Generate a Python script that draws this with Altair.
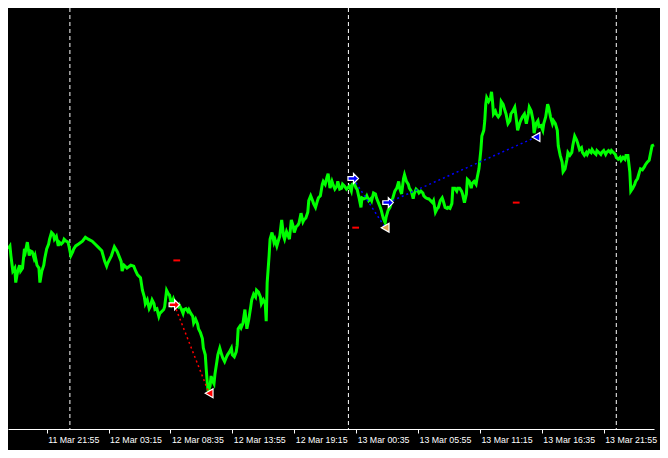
import altair as alt
import pandas as pd

# ---- time base: M5 bars ----
START = "2024-03-11 18:35"
BAR_MINUTES = 5
END_BAR = 668

# ---- close-price trace (bar index, level; larger = lower) ----
bars1 = [0,2,3,5,7,8,10,12,13,15,17,18,20,22,23,25,27,28,30,32,33,35,37,38,40,42,43,45,47,48,
         50,52,53,55,57,58,60,62,63,65,67,68,70,73,77,80,83,87,90,93,97,100,102,103,107,110,113,117,118,120,
         123,127,130,132]
levels1 = [250,247,257,273,270,285,273,267,273,270,250,253,243,257,252,253,260,257,267,270,285,273,267,260,250,245,240,233,235,240,
           237,247,243,245,243,240,242,243,247,257,253,250,247,245,242,238,240,242,245,248,252,263,268,265,257,248,253,263,273,267,
           270,267,268,273]
bars2 = [134,137,139,141,142,144,146,147,149,151,152,154,156,157,159,161,162,164,166,167,169,171,172,174,176,177,179,181,182,184,
         186,187,189,191,192,194,196,197,199,201,202,204,205,206,207,209,210,211,213,214,216,217,219,221,222,224,226,227,229,231,
         232,234,236,237,238,240,241,243,245,246,247,249,251,252,254,256,257,259,261,262,264,266,267]
levels2 = [277,280,293,300,307,303,312,310,303,307,313,312,320,317,315,313,310,293,297,298,307,302,305,308,310,308,312,317,313,312,
           315,313,317,320,327,323,328,333,337,343,353,360,375,388,398,392,382,386,390,380,367,360,353,360,363,367,362,360,357,353,
           360,362,357,350,333,330,332,327,313,323,333,323,310,303,297,300,293,295,300,307,303,307,325]
bars3 = [268,270,271,273,275,276,278,280,281,283,285,286,288,290,291,293,295,296,298,300,301,303,305,306,308,310,311,313,315,316,
         318,320,321,323,325,326,328,330,331,333,335,336,338,340,341,343,345,346,348,350,351,353,355,356,358,360,361,363,365,366,
         368,370,371,373,375,376,378,380,381,383,385,386,388,390,391,393,395,396,398,400]
levels3 = [285,257,240,233,243,240,247,240,237,220,237,240,232,237,240,220,227,233,227,225,223,213,222,220,218,212,200,195,200,203,
           207,200,197,195,183,180,183,175,172,187,180,183,188,185,180,188,187,183,185,188,187,185,190,183,182,187,188,197,207,197,
           198,197,195,200,198,200,192,193,197,202,207,210,218,223,217,210,207,203,197,190]
bars4 = [402,404,405,407,409,410,412,414,415,417,419,420,422,424,425,427,429,430,432,434,435,437,439,440,442,444,445,447,449,450,
         452,454,455,457,459,460,462,464,465,467,469,470,472,474,475,477,479,480,482,484,485,487,488,489,490,492,493,494,495,497,
         499,500,501,502,504,505,507,509,510,512,514,515,517,519,520,522,524,525,527,529,530,532,534]
levels4 = [187,180,187,193,177,173,180,183,187,190,198,193,188,190,192,190,192,195,197,198,198,200,202,200,212,208,207,200,197,200,
           207,208,207,208,203,187,187,190,187,187,190,193,202,193,178,180,187,182,180,183,177,167,157,147,133,127,117,100,93,97,
           93,87,97,110,107,110,113,110,97,100,107,110,120,117,110,107,103,110,127,120,117,113,110]
bars5 = [536,538,539,541,543,544,546,548,549,551,553,554,556,558,559,561,563,564,566,568,569,571,573,574,576,578,579,581,583,584,
         586,588,589,591,593,594,596,598,599,601,603,604,606,608,609,611,613,614,616,618,619,621,623,624,626,628,629,631,633,634,
         636,638,639,641,643,644,646,648,649,651,653,654,656,658,659,661,663,664,666,668]
levels5 = [120,110,103,107,117,130,120,117,123,122,127,120,113,100,103,113,120,117,120,127,143,153,160,170,167,157,150,153,150,143,
           133,137,140,147,145,150,153,150,152,148,150,147,150,152,148,150,152,150,148,152,150,148,150,148,150,152,155,157,155,158,
           155,157,153,153,170,190,187,183,180,177,170,167,168,165,163,160,158,153,143,142]

# ---- axis labels and day separators ----
tick_labels = ["11 Mar 21:55", "12 Mar 03:15", "12 Mar 08:35", "12 Mar 13:55", "12 Mar 19:15",
               "13 Mar 00:35", "13 Mar 05:55", "13 Mar 11:15", "13 Mar 16:35", "13 Mar 21:55"]
separator_bars = [64, 352, 629]

# ---- trades ----
trade_ids = ["T1", "T2", "T3"]
trade_side = ["sell", "buy", "buy"]
entry_bars = [172, 357, 393]
entry_levels = [308, 177, 202]
exit_bars = [208, 390, 546]
exit_levels = [400, 228, 134]
stop_bar_from = [171, 356, 522]
stop_bar_to = [178, 363, 529]
stop_levels = [262, 228, 202]

# ---------------------------------------------------------------
t0 = pd.Timestamp(START)


def bar_time(b):
    return t0 + pd.Timedelta(minutes=BAR_MINUTES * int(b))


def dt(ts):
    return alt.DateTime(year=ts.year, month=ts.month, date=ts.day,
                        hours=ts.hour, minutes=ts.minute)


price = pd.DataFrame({"bar": bars1 + bars2 + bars3 + bars4 + bars5,
                      "level": levels1 + levels2 + levels3 + levels4 + levels5})
price["time"] = price["bar"].map(bar_time)

tick_times = [pd.to_datetime(f"{t0.year} {s}", format="%Y %d %b %H:%M") for s in tick_labels]
sep = pd.DataFrame({"time": [bar_time(b) for b in separator_bars]})

entries = pd.DataFrame({"trade": trade_ids, "side": trade_side,
                        "time": [bar_time(b) for b in entry_bars], "level": entry_levels})
exits = pd.DataFrame({"trade": trade_ids,
                      "time": [bar_time(b) for b in exit_bars], "level": exit_levels})
links = pd.concat([entries[["trade", "side", "time", "level"]],
                   exits.assign(side=trade_side)[["trade", "side", "time", "level"]]])
stops = pd.DataFrame({"trade": trade_ids,
                      "t1": [bar_time(b) for b in stop_bar_from],
                      "t2": [bar_time(b) for b in stop_bar_to],
                      "level": stop_levels})

xscale = alt.Scale(domain=[dt(bar_time(0)), dt(bar_time(END_BAR))], nice=False)
yscale = alt.Scale(domain=[0, 437], reverse=True, nice=False, zero=False)

x_axis = alt.Axis(values=[dt(t) for t in tick_times], format="%d %b %H:%M", title=None,
                  grid=False, domainColor="#ffffff", domainWidth=1, tickColor="#ffffff",
                  tickSize=4, labelColor="#ffffff", labelFont="Liberation Sans",
                  labelFontSize=8.8, labelAlign="left", labelBaseline="top",
                  labelPadding=2, labelOffset=1, labelOverlap=False, labelFlush=False)

side_color = alt.Scale(domain=["sell", "buy"], range=["#ff0000", "#0000ff"])
exit_color = alt.Scale(domain=trade_ids, range=["#ff0000", "#e0a050", "#0000ff"])

ARROW = "M -1 -0.35 L 0.05 -0.35 L 0.05 -0.95 L 1 0 L 0.05 0.95 L 0.05 0.35 L -1 0.35 Z"

base_x = alt.X("time:T", scale=xscale, axis=x_axis)

separators = alt.Chart(sep).mark_rule(color="#ffffff", strokeWidth=1, strokeDash=[4, 3]).encode(
    x=alt.X("time:T", scale=xscale))

line = alt.Chart(price).mark_line(color="#00ff00", strokeWidth=3).encode(
    x=base_x, y=alt.Y("level:Q", scale=yscale, axis=None), order="bar:Q")

link_lines = alt.Chart(links).mark_line(strokeWidth=1.5, strokeDash=[2, 3]).encode(
    x=alt.X("time:T", scale=xscale),
    y=alt.Y("level:Q", scale=yscale),
    detail="trade:N",
    color=alt.Color("side:N", scale=side_color, legend=None))

stop_marks = alt.Chart(stops).mark_rule(color="#ff0000", strokeWidth=2).encode(
    x=alt.X("t1:T", scale=xscale), x2="t2:T", y=alt.Y("level:Q", scale=yscale))

entry_marks = alt.Chart(entries).mark_point(shape=ARROW, filled=True, size=110, opacity=1,
                                            stroke="#ffffff", strokeWidth=1.2).encode(
    x=alt.X("time:T", scale=xscale), y=alt.Y("level:Q", scale=yscale),
    fill=alt.Fill("side:N", scale=side_color, legend=None))

exit_marks = alt.Chart(exits).mark_point(shape="triangle-left", filled=True, size=80, opacity=1,
                                         stroke="#ffffff", strokeWidth=1.2).encode(
    x=alt.X("time:T", scale=xscale), y=alt.Y("level:Q", scale=yscale),
    fill=alt.Fill("trade:N", scale=exit_color, legend=None))

chart = alt.layer(separators, line, link_lines, stop_marks, entry_marks, exit_marks).resolve_scale(
    color="independent", fill="independent"
).properties(
    width=646, height=421,
    autosize=alt.AutoSizeParams(type="none"),
    padding={"left": 0, "top": 0, "right": 6, "bottom": 21},
    background="#000000",
).configure_view(stroke=None)

chart.save("out.html", embed_options={"renderer": "svg", "actions": False})
